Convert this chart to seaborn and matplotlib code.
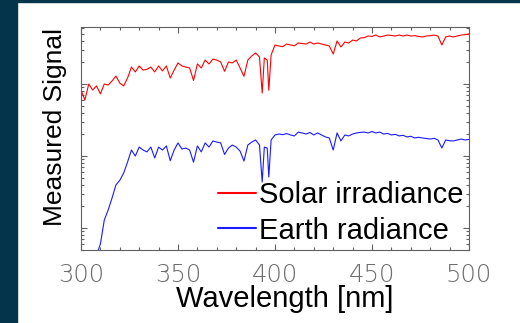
import matplotlib
matplotlib.use('Agg')
import matplotlib.pyplot as plt
from matplotlib import font_manager as fm
from matplotlib.patches import Rectangle
from matplotlib.ticker import MultipleLocator, LogLocator, NullFormatter
import seaborn as sns
import pandas as pd

# wavelength grid (nm), extra points at the Ca II K and H lines
wavelength = (list(range(300, 393, 2))
              + [393.4, 394.5, 396, 396.8, 398]
              + list(range(400, 501, 2)))

# values (arbitrary units)
solar = [82.5, 60, 100, 82.5, 94, 73, 100, 97, 110, 129,
         103, 94, 121, 172, 147, 178, 156, 160, 172, 147,
         178, 152, 178, 121, 156, 196, 178, 172, 167, 112,
         190, 167, 215, 190, 222, 215, 202, 150, 202, 196,
         215, 167, 128, 215, 245, 270, 237,
         75, 230, 215, 82, 253,
         348, 337, 330, 359, 348, 340, 371, 365, 359, 383,
         359, 371, 359, 348, 337, 261, 396, 327, 383, 371,
         408, 396, 435, 440, 464, 458, 479, 450, 464, 479,
         472, 464, 479, 464, 479, 464, 470, 458, 450, 464,
         468, 479, 464, 348, 450, 464, 450, 464, 479, 485, 495]

earth = [0.2, 0.24, 0.29, 0.35, 0.42, 0.6, 1.29, 1.78, 2.61, 3.96,
         4.6, 5.8, 8.25, 12.1, 10.0, 13.3, 12.1, 11.4, 13.3, 9.4,
         13.3, 12.1, 13.8, 8.6, 12.1, 15.2, 12.5, 12.9, 12.1, 8.2,
         13.8, 11.4, 15.2, 13.3, 16.2, 15.6, 15.2, 10.5, 12.9, 14.2,
         13.3, 11.7, 8.5, 14.2, 15.6, 16.7, 14.2,
         4.35, 13.3, 12.9, 5.1, 16.7,
         19.6, 20.2, 19.8, 20.5, 19.6, 19.0, 21.5, 20.9, 20.2, 21.2,
         19.6, 20.9, 19.6, 18.4, 17.8, 12.1, 20.9, 16.2, 19.6, 19.0,
         20.2, 20.9, 21.3, 21.5, 20.9, 21.9, 20.9, 21.5, 20.2, 20.6,
         19.6, 20.0, 19.0, 19.4, 18.4, 18.8, 17.8, 18.2, 17.8, 17.5,
         17.2, 17.6, 16.7, 12.9, 16.7, 16.3, 16.2, 16.7, 17.2, 16.7, 17.0]

series_names = ['Solar irradiance', 'Earth radiance']

df = pd.DataFrame({
    'wavelength': wavelength * 2,
    'signal': solar + earth,
    'series': [series_names[0]] * len(solar) + [series_names[1]] * len(earth),
})


def light_font(size):
    """Pick a thin installed face for the tick numbers, else plain DejaVu."""
    for fam in ['DejaVu Sans', 'Roboto', 'Lato', 'Open Sans', 'Noto Sans', 'Inter']:
        cands = [f for f in fm.fontManager.ttflist
                 if f.name == fam and f.style == 'normal'
                 and isinstance(f.weight, int) and f.weight <= 300]
        if cands:
            best = min(cands, key=lambda f: abs(f.weight - 200))
            return fm.FontProperties(fname=best.fname, size=size)
    return fm.FontProperties(family='DejaVu Sans', size=size)


sns.set_style('ticks')
plt.rcParams['font.family'] = ['Liberation Sans', 'DejaVu Sans']
plt.rcParams['text.color'] = 'black'
plt.rcParams['axes.labelcolor'] = 'black'

fig = plt.figure(figsize=(5.2, 3.23), dpi=100)
# dark slide border on the left and top
fig.patches.append(Rectangle((0, 0), 17 / 520, 1, transform=fig.transFigure,
                             color='#03344a', zorder=0))
fig.patches.append(Rectangle((0, 1 - 2 / 323), 1, 2 / 323, transform=fig.transFigure,
                             color='#03344a', zorder=0))

ax = fig.add_axes([81 / 520, 73 / 323, 388 / 520, 223 / 323])
sns.lineplot(data=df, x='wavelength', y='signal', hue='series',
             palette={'Solar irradiance': '#ff0000', 'Earth radiance': '#1a1aff'},
             estimator=None, sort=False, lw=0.8, ax=ax)

ax.set_yscale('log')
ax.set_xlim(300, 500)
ax.set_ylim(0.495, 619)
ax.xaxis.set_major_locator(MultipleLocator(50))
ax.xaxis.set_minor_locator(MultipleLocator(10))
ax.yaxis.set_major_locator(LogLocator(base=10))
ax.yaxis.set_minor_locator(LogLocator(base=10, subs=range(2, 10)))
ax.yaxis.set_major_formatter(NullFormatter())
ax.yaxis.set_minor_formatter(NullFormatter())

for s in ax.spines.values():
    s.set_color('#606060')
    s.set_linewidth(0.8)
ax.tick_params(which='both', direction='in', top=True, right=True,
               color='#606060', width=0.8)
ax.tick_params(which='major', length=4.5)
ax.tick_params(which='minor', length=2.5)
ax.tick_params(axis='x', pad=9, labelcolor='#6e6e6e')

# thin grey tick numbers
tick_font = light_font(17.5)
for lab in ax.get_xticklabels():
    lab.set_fontproperties(tick_font)

ax.set_xlabel('Wavelength [nm]', fontsize=21, color='black')
ax.xaxis.set_label_coords(0.526, -0.155)
ax.set_ylabel('Measured Signal', fontsize=19, color='black')
ax.yaxis.set_label_coords(-0.036, 0.552)

handles, labels = ax.get_legend_handles_labels()
leg = ax.legend(handles, labels, loc='lower right', bbox_to_anchor=(0.985, 0.024),
                frameon=False, fontsize=21, handlelength=1.3, handletextpad=0.1,
                labelspacing=0.27, borderpad=0, borderaxespad=0)
for t in leg.get_texts():
    t.set_color('black')
for h in leg.get_lines():
    h.set_linewidth(1.5)

fig.savefig('out.png', dpi=100)
